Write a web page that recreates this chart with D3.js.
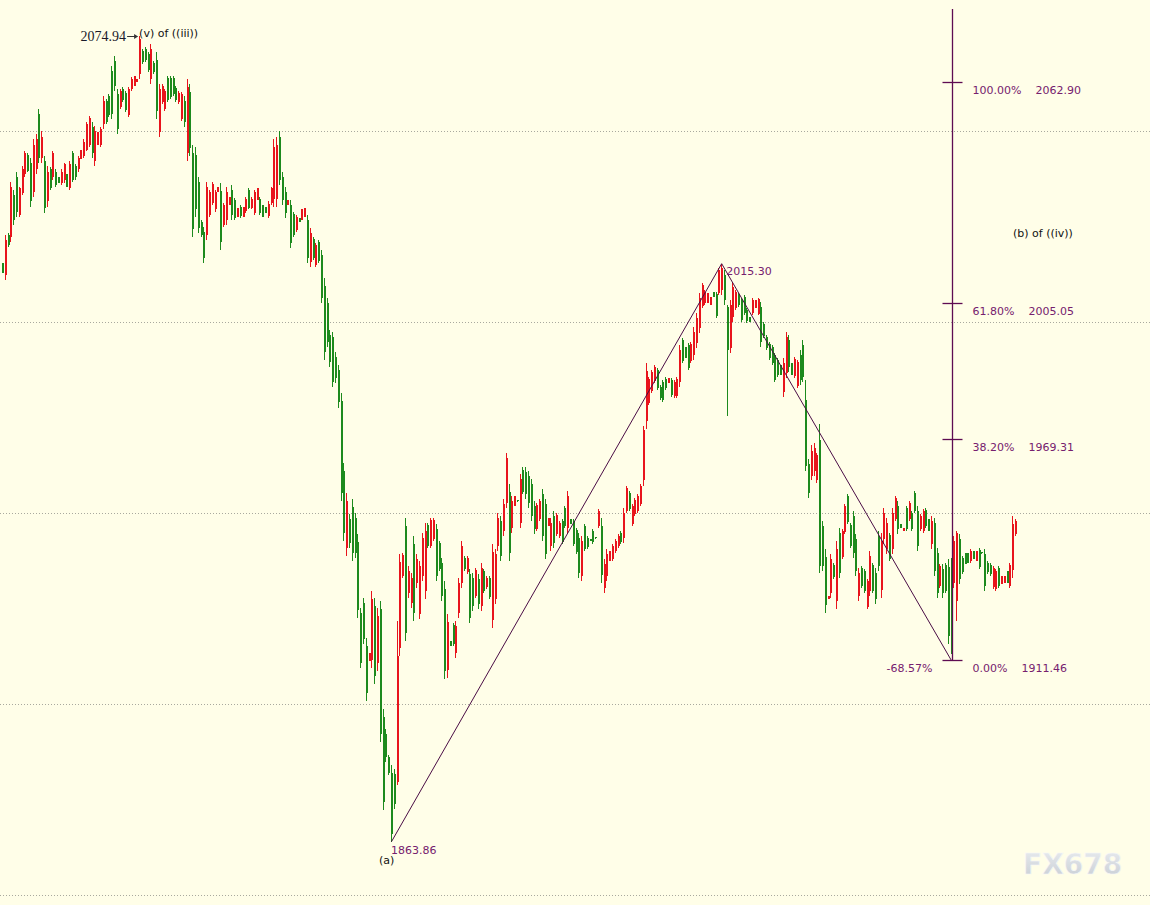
<!DOCTYPE html>
<html><head><meta charset="utf-8">
<script src="https://cdn.jsdelivr.net/npm/d3@7/dist/d3.min.js"></script>
<style>html,body{margin:0;padding:0;background:#fffee8;overflow:hidden}</style>
</head><body><svg id="c" width="1150" height="905"></svg>
<script>
// ---- DATA (prices) ----
const opens = [
2015.5,2012.4,2022.9,2022.4,2033.4,2038.1,2028.1,2033.9,2038.7,2043.9,
2041.8,2034.2,2040.0,2054.4,2043.1,2042.1,2031.6,2040.0,2037.9,2039.4,
2038.1,2036.5,2037.1,2038.7,2035.2,2044.2,2040.8,2040.0,2042.6,2043.6,
2045.2,2046.5,2051.0,2042.1,2046.5,2046.5,2051.8,2057.9,2059.2,2065.7,
2068.4,2059.7,2056.3,2061.0,2060.0,2054.2,2061.0,2061.8,2062.8,2065.0,
2071.0,2071.5,2070.2,2063.6,2067.8,2068.6,2049.7,2057.6,2055.7,2063.9,
2063.9,2063.9,2061.3,2057.6,2053.1,2057.9,2044.2,2060.2,2044.4,2043.9,
2036.8,2026.3,2023.7,2022.9,2028.1,2031.3,2029.5,2034.2,2034.4,2025.5,
2026.8,2030.8,2034.7,2032.1,2027.6,2030.2,2027.6,2029.2,2034.7,2030.0,
2028.7,2032.1,2032.3,2030.8,2030.2,2027.9,2031.3,2032.3,2032.3,2048.6,
2037.9,2034.2,2030.8,2030.8,2028.4,2024.2,2027.3,2026.8,2027.6,2026.8,
2015.8,2021.8,2015.0,2021.0,2017.6,2009.5,2005.0,1996.6,1996.1,1990.8,
1987.4,1979.2,1961.1,1940.8,1948.5,1951.6,1948.7,1942.4,1923.7,1926.4,
1915.1,1911.1,1911.4,1925.6,1910.6,1924.8,1896.4,1892.2,1886.1,1881.9,
1881.7,1879.6,1914.5,1933.5,1946.6,1929.0,1926.4,1941.9,1931.6,1923.5,
1933.5,1929.5,1946.9,1941.4,1943.2,1945.8,1942.2,1936.9,1930.1,1908.8,
1916.4,1920.6,1913.2,1923.7,1931.6,1938.2,1934.5,1934.0,1932.9,1928.2,
1932.7,1925.6,1934.8,1930.6,1932.9,1921.9,1927.4,1941.4,1947.9,1945.3,
1952.7,1955.6,1946.1,1951.9,1953.4,1947.4,1961.3,1960.6,1959.8,1957.7,
1951.9,1945.8,1948.5,1955.0,1952.4,1946.6,1941.4,1949.2,1944.5,1944.0,
1947.9,1951.3,1946.1,1948.5,1947.9,1945.6,1943.5,1933.5,1946.6,1943.5,
1943.2,1945.3,1943.6,1946.6,1946.6,1930.3,1933.5,1937.4,1937.9,1940.0,
1941.4,1944.8,1943.5,1950.6,1955.3,1947.1,1949.8,1950.6,1952.4,1958.5,
1974.2,1978.7,1981.9,1984.5,1987.4,1982.9,1984.2,1985.0,1984.0,1984.8,
1980.5,1980.5,1984.2,1995.3,1993.4,1994.0,1989.7,1991.3,1994.5,1998.4,
2004.2,2005.0,2005.0,2004.5,2007.9,2007.4,2007.6,2008.4,2012.4,2004.0,
1993.2,2001.3,2003.7,2007.1,2005.8,2006.6,2003.2,2001.3,2002.4,2003.7,
2002.2,2004.0,1999.5,1996.1,1994.2,1993.4,1991.3,1990.0,1988.7,1981.6,
1986.6,1995.3,1989.2,1985.8,1983.2,1991.3,1994.0,1979.5,1962.9,1959.8,
1961.1,1958.5,1969.0,1946.6,1938.5,1927.4,1929.0,1936.4,1926.9,1944.8,
1938.5,1945.0,1954.5,1946.9,1949.2,1943.2,1928.2,1935.6,1934.8,1925.3,
1929.5,1936.4,1934.3,1944.0,1929.8,1943.2,1940.6,1944.3,1940.6,1948.5,
1951.9,1947.1,1945.3,1951.3,1948.5,1950.0,1955.3,1950.6,1945.8,1945.3,
1950.8,1948.5,1941.9,1947.4,1939.5,1930.8,1935.3,1936.4,1935.8,1936.1,
1931.6,1926.9,1943.2,1938.2,1939.5,1939.5,1937.4,1940.0,1937.4,1940.3,
1939.7,1939.3,1936.9,1936.4,1930.6,1930.1,1935.6,1931.4,1931.6,1934.8,
1930.8,1935.0,1944.5];
const highs = [
2015.5,2022.9,2023.4,2036.8,2034.7,2039.4,2035.5,2040.8,2044.7,2044.4,
2043.1,2047.9,2049.2,2055.7,2050.0,2043.4,2040.8,2040.5,2044.7,2040.0,
2038.1,2040.0,2041.8,2038.7,2042.1,2044.7,2041.3,2043.4,2045.2,2047.9,
2052.3,2053.9,2052.3,2051.3,2049.7,2051.0,2059.2,2058.4,2059.7,2067.1,
2069.7,2061.0,2061.0,2061.5,2060.5,2061.5,2064.2,2064.4,2063.6,2074.94,
2071.5,2072.0,2070.7,2072.8,2068.4,2070.7,2062.3,2062.3,2061.0,2064.4,
2064.4,2064.4,2061.8,2060.5,2060.2,2059.2,2063.6,2062.3,2046.5,2046.0,
2038.1,2026.8,2025.0,2036.8,2034.7,2036.8,2034.7,2035.5,2036.5,2031.3,
2035.5,2032.9,2036.0,2032.6,2030.0,2030.8,2030.2,2032.9,2035.2,2032.9,
2034.7,2035.2,2032.9,2030.8,2030.2,2031.6,2035.5,2047.9,2048.4,2050.0,
2039.2,2035.5,2032.1,2032.1,2028.9,2028.1,2027.3,2029.5,2030.0,2028.1,
2024.7,2022.4,2020.8,2021.6,2018.9,2011.6,2006.3,1997.9,1997.4,1992.1,
1988.7,1981.3,1963.2,1955.3,1949.8,1953.7,1950.0,1944.5,1925.1,1927.7,
1917.2,1913.2,1929.5,1927.7,1925.1,1926.9,1898.5,1893.5,1886.7,1884.0,
1883.0,1921.6,1939.3,1939.5,1948.7,1936.1,1934.3,1944.0,1939.3,1937.4,
1944.8,1947.4,1947.4,1948.7,1948.7,1947.1,1942.7,1938.2,1932.2,1923.5,
1916.4,1921.1,1921.6,1932.9,1942.7,1938.7,1938.7,1935.3,1934.3,1935.6,
1934.0,1936.9,1935.3,1933.5,1933.5,1941.9,1940.6,1950.0,1949.3,1953.7,
1965.8,1957.7,1954.5,1954.5,1953.5,1960.3,1961.9,1961.9,1961.1,1959.0,
1953.2,1952.7,1953.7,1956.3,1953.7,1948.7,1948.7,1950.6,1950.0,1947.9,
1948.5,1951.9,1955.8,1948.5,1948.5,1946.1,1944.8,1944.0,1947.1,1944.0,
1943.2,1945.8,1943.7,1951.1,1948.7,1937.9,1940.6,1940.0,1941.9,1943.2,
1944.5,1945.3,1951.3,1957.1,1955.8,1952.4,1954.0,1955.0,1957.7,1972.9,
1989.2,1985.5,1987.4,1988.7,1987.9,1983.4,1984.8,1985.5,1985.3,1985.3,
1984.8,1985.5,1994.0,1995.8,1993.4,1994.5,1994.7,1998.7,2002.4,2007.6,
2010.3,2008.4,2007.6,2006.6,2007.9,2007.9,2014.2,2015.3,2013.7,2004.5,
2005.8,2010.5,2008.4,2007.6,2006.3,2007.1,2003.7,2001.3,2006.3,2005.8,
2006.3,2005.2,2000.0,1996.6,1994.7,1994.0,1991.8,1990.5,1988.7,1990.5,
1997.4,1996.6,1989.2,1990.8,1990.0,1992.6,1995.3,1984.8,1964.2,1967.7,
1968.2,1965.8,1973.4,1947.9,1940.6,1928.2,1939.3,1936.9,1942.7,1946.1,
1945.8,1952.4,1955.0,1947.4,1950.6,1944.5,1935.6,1936.1,1935.3,1932.7,
1940.0,1936.9,1935.6,1945.3,1944.8,1951.3,1948.7,1944.8,1951.3,1954.5,
1953.2,1947.1,1946.1,1951.9,1953.2,1950.6,1955.8,1951.9,1949.8,1951.1,
1951.3,1948.5,1949.2,1948.7,1940.8,1936.6,1936.6,1936.9,1937.9,1938.2,
1944.0,1945.3,1944.5,1938.7,1939.5,1939.5,1940.6,1940.0,1940.0,1940.8,
1939.8,1940.6,1937.4,1936.9,1936.1,1935.3,1936.1,1933.5,1933.5,1934.8,
1936.9,1949.2,1948.5];
const lows = [
2012.9,2011.0,2019.7,2021.0,2025.5,2027.6,2027.6,2033.4,2038.1,2039.2,
2030.2,2032.9,2038.7,2041.8,2041.8,2028.7,2030.2,2034.7,2037.3,2035.5,
2036.5,2036.0,2036.5,2035.5,2034.7,2036.8,2037.3,2039.4,2042.6,2043.1,
2044.7,2046.0,2043.1,2040.8,2046.5,2046.0,2050.5,2051.8,2053.6,2053.1,
2060.5,2049.2,2055.7,2057.6,2055.0,2053.6,2060.5,2061.8,2062.8,2063.6,
2067.6,2068.1,2065.5,2062.3,2065.0,2053.1,2048.4,2057.1,2055.2,2057.6,
2058.4,2059.2,2057.6,2057.1,2052.6,2051.0,2042.1,2043.4,2022.4,2027.6,
2023.4,2022.4,2015.5,2021.6,2027.6,2030.8,2028.9,2034.2,2018.9,2025.0,
2025.5,2030.8,2026.8,2026.8,2027.6,2027.3,2027.6,2028.7,2029.5,2029.5,
2028.1,2032.1,2028.1,2027.6,2028.7,2027.3,2030.8,2030.2,2030.2,2036.0,
2030.8,2027.3,2030.8,2019.5,2022.4,2023.7,2026.3,2026.8,2027.6,2015.5,
2014.5,2016.3,2014.5,2015.5,2005.0,1990.0,1993.4,1988.2,1982.9,1984.0,
1977.6,1953.2,1942.7,1938.7,1940.8,1937.4,1938.2,1922.4,1909.3,1915.6,
1900.6,1911.1,1909.3,1905.1,1908.5,1890.1,1872.2,1884.8,1881.4,1863.86,
1872.5,1878.8,1912.4,1932.9,1916.4,1927.7,1925.1,1921.6,1930.3,1922.2,
1932.2,1927.4,1940.8,1940.8,1942.7,1932.2,1934.8,1926.9,1906.4,1906.7,
1915.1,1915.1,1911.9,1922.4,1930.3,1934.8,1934.0,1921.1,1924.3,1927.7,
1924.8,1924.3,1929.0,1930.1,1927.4,1919.8,1926.1,1940.0,1937.4,1944.0,
1951.3,1937.4,1944.8,1951.9,1952.9,1946.1,1955.0,1953.7,1951.3,1947.9,
1944.5,1945.3,1947.9,1942.7,1937.9,1946.6,1940.0,1940.8,1944.0,1943.5,
1941.9,1946.1,1944.8,1947.1,1941.4,1939.3,1932.9,1932.2,1940.0,1940.6,
1942.7,1941.9,1943.2,1946.1,1931.6,1929.0,1932.2,1937.4,1937.4,1939.5,
1940.8,1941.9,1942.2,1950.0,1950.6,1946.6,1949.2,1950.0,1951.9,1957.1,
1972.1,1978.2,1981.3,1984.0,1982.1,1979.5,1979.0,1982.1,1984.0,1980.3,
1980.0,1980.0,1982.9,1989.2,1990.5,1987.4,1989.2,1990.0,1993.2,1997.1,
2003.7,2004.5,2005.0,2004.5,2006.6,2001.1,2007.1,2007.1,2004.5,1975.5,
1991.8,2000.0,2003.2,2004.0,2000.0,2001.8,1999.7,2000.0,2001.8,2003.7,
2001.8,1993.4,1995.8,1992.6,1990.0,1988.7,1984.2,1985.5,1986.1,1980.3,
1985.3,1986.8,1986.1,1985.3,1982.6,1983.4,1984.2,1961.1,1954.0,1958.5,
1959.8,1957.9,1934.3,1934.8,1923.7,1927.4,1927.7,1932.7,1924.8,1932.9,
1937.9,1944.5,1947.1,1940.8,1938.2,1933.5,1926.9,1930.3,1929.0,1924.8,
1928.2,1929.0,1926.1,1934.8,1927.7,1941.9,1939.3,1937.4,1939.3,1947.9,
1944.5,1946.1,1945.3,1945.3,1947.9,1945.3,1950.0,1940.0,1945.3,1944.8,
1946.1,1945.3,1940.6,1933.5,1927.7,1930.3,1927.7,1929.0,1915.6,1913.0,
1930.3,1921.6,1931.4,1934.0,1936.6,1936.9,1936.9,1937.9,1937.4,1935.3,
1939.3,1929.5,1934.0,1933.5,1930.1,1929.5,1930.3,1931.4,1931.6,1931.6,
1930.3,1932.9,1944.0];
const closes = [
2012.9,2021.6,2020.3,2035.5,2026.8,2028.9,2035.0,2040.2,2044.2,2039.7,
2031.6,2046.5,2047.9,2043.1,2048.6,2030.0,2039.4,2035.2,2044.2,2036.0,
2036.5,2039.4,2041.3,2035.5,2041.5,2037.3,2037.9,2042.9,2045.2,2047.3,
2051.8,2053.4,2044.4,2050.0,2049.7,2050.5,2057.9,2052.3,2054.2,2054.4,
2061.8,2050.5,2060.5,2058.1,2055.5,2061.0,2063.6,2064.4,2063.6,2074.2,
2068.1,2068.6,2066.0,2071.5,2065.5,2055.2,2061.0,2061.8,2060.5,2058.1,
2058.9,2059.7,2058.1,2060.0,2059.7,2052.3,2061.5,2045.5,2024.5,2029.7,
2024.7,2022.9,2016.8,2035.5,2034.2,2036.3,2034.2,2035.5,2021.0,2030.8,
2034.2,2032.9,2028.1,2027.3,2030.0,2027.9,2030.2,2032.3,2030.0,2032.3,
2034.2,2035.2,2028.7,2027.6,2028.7,2031.0,2035.0,2045.8,2046.3,2037.3,
2032.1,2028.7,2032.1,2020.8,2022.9,2027.6,2026.3,2029.5,2030.0,2016.8,
2023.4,2016.8,2020.3,2016.0,2006.3,1992.1,1994.7,1989.5,1984.2,1985.3,
1979.0,1955.3,1944.8,1953.2,1942.2,1939.5,1939.5,1924.5,1910.6,1916.9,
1902.7,1913.2,1927.4,1907.2,1923.0,1892.2,1874.3,1886.1,1881.9,1865.9,
1873.8,1912.4,1937.2,1939.0,1918.5,1934.8,1932.9,1923.7,1937.9,1936.1,
1943.5,1945.3,1941.4,1948.2,1948.2,1933.5,1935.3,1928.2,1908.5,1921.4,
1915.1,1915.6,1920.3,1931.6,1941.4,1935.3,1938.2,1922.4,1925.6,1935.0,
1926.1,1935.6,1929.5,1932.9,1928.0,1939.8,1939.3,1948.7,1938.7,1952.4,
1964.5,1939.5,1953.2,1954.5,1953.0,1959.0,1955.6,1955.0,1952.7,1949.2,
1945.8,1952.1,1953.2,1944.0,1939.3,1948.7,1947.4,1942.2,1949.5,1947.4,
1942.4,1946.6,1954.5,1947.1,1941.9,1939.8,1934.3,1942.7,1940.6,1941.1,
1942.7,1942.4,1943.3,1950.6,1933.7,1936.6,1939.3,1940.0,1941.4,1942.7,
1944.0,1942.4,1950.0,1956.6,1951.1,1951.9,1953.5,1954.5,1957.1,1971.6,
1987.1,1985.0,1986.8,1988.2,1982.6,1980.0,1979.5,1982.6,1985.3,1980.8,
1984.2,1985.0,1992.6,1989.7,1990.5,1987.9,1994.2,1997.4,2001.0,2006.3,
2009.7,2007.9,2007.6,2006.6,2006.6,2001.6,2013.7,2014.2,2005.8,1992.6,
2004.5,2009.2,2007.9,2004.5,2000.5,2002.4,2000.3,2000.0,2005.8,2005.8,
2006.0,1994.7,1996.3,1993.2,1990.5,1989.2,1984.8,1986.1,1986.1,1989.2,
1996.1,1988.2,1986.1,1990.3,1989.5,1984.8,1985.5,1962.4,1955.3,1966.3,
1966.9,1965.3,1936.1,1936.1,1925.8,1928.2,1937.9,1933.2,1940.6,1934.3,
1945.3,1951.9,1947.7,1941.4,1939.5,1934.8,1934.3,1930.8,1929.5,1932.2,
1938.7,1929.5,1927.4,1936.1,1942.7,1950.0,1947.4,1937.9,1950.0,1954.0,
1945.8,1946.1,1946.1,1945.8,1952.7,1945.8,1950.6,1941.4,1949.2,1950.6,
1946.6,1945.3,1947.9,1934.8,1929.0,1936.1,1929.0,1929.5,1917.7,1915.1,
1942.7,1944.8,1932.7,1934.5,1936.6,1936.9,1940.0,1937.9,1940.0,1935.8,
1939.4,1930.8,1934.5,1934.0,1935.6,1934.8,1930.8,1933.5,1933.5,1931.6,
1936.4,1947.1,1947.9];

const gridLevels = [2050, 2000, 1950, 1900, 1850];
const fibPcts   = ["100.00%", "61.80%", "38.20%", "0.00%"];
const fibPrices = [2062.90, 2005.05, 1969.31, 1911.46];
const fibTop = 2082;
const swingIdx   = [139, 257, 339];          // bar index of the swing points
const swingPrice = [1863.86, 2015.30, 1911.46];
const swingLabels = ["1863.86", "2015.30"];
const highIdx = 49, highLabel = "2074.94", highPrice = 2074.94;

// ---- CHART ----
const W = 1150, H = 905;
const N = Math.min(opens.length, highs.length, lows.length, closes.length);
const svg = d3.select('#c');
const x = d3.scaleLinear().domain([0, N - 1]).range([2, 1015]);
const y = d3.scaleLinear().domain([1911.46, 2062.90]).range([660, 82]);

const RED = '#e8141c', GREEN = '#1d8a1d', PURPLE = '#5e0c52', LBL = '#76206e';
const FONT = '"DejaVu Sans", Verdana, sans-serif';

svg.append('rect').attr('width', W).attr('height', H).attr('fill', '#fffee8');

// grid
svg.append('g').selectAll('line').data(gridLevels).join('line')
  .attr('x1', 0).attr('x2', W)
  .attr('y1', d => Math.round(y(d)) + 0.5).attr('y2', d => Math.round(y(d)) + 0.5)
  .attr('stroke', '#a9a99e').attr('stroke-dasharray', '1,2');

// candles
const idx = d3.range(N);
const cg = svg.append('g').attr('shape-rendering', 'crispEdges');
const col = i => closes[i] >= opens[i] ? RED : GREEN;
cg.selectAll('line').data(idx).join('line')
  .attr('x1', i => Math.round(x(i)) + 0.5).attr('x2', i => Math.round(x(i)) + 0.5)
  .attr('y1', i => y(highs[i])).attr('y2', i => y(lows[i]))
  .attr('stroke', col).attr('stroke-width', 1);
cg.selectAll('rect').data(idx).join('rect')
  .attr('x', i => Math.round(x(i)) - 0.5).attr('width', 2)
  .attr('y', i => y(Math.max(opens[i], closes[i])))
  .attr('height', i => Math.max(1, y(Math.min(opens[i], closes[i])) - y(Math.max(opens[i], closes[i]))))
  .attr('fill', col);

// swing lines
const pts = swingIdx.map((k, j) => [x(k) + 0.5, y(swingPrice[j])]);
svg.append('path').attr('d', d3.line()(pts)).attr('fill', 'none')
  .attr('stroke', '#4a0d45').attr('stroke-width', 1);

// fib tool
const fx = Math.round(x(swingIdx[2])) + 1.5;
const fg = svg.append('g');
fg.append('line').attr('x1', fx).attr('x2', fx).attr('y1', y(fibTop)).attr('y2', y(fibPrices[3]))
  .attr('stroke', PURPLE).attr('stroke-width', 1.3);
fg.selectAll('line.t').data(fibPrices).join('line').attr('class', 't')
  .attr('x1', fx - 10).attr('x2', fx + 10)
  .attr('y1', d => Math.round(y(d)) + 0.5).attr('y2', d => Math.round(y(d)) + 0.5)
  .attr('stroke', PURPLE).attr('stroke-width', 1.3);
fibPrices.forEach((p, j) => {
  const t = fg.append('text').attr('x', fx + 20).attr('y', y(p) + 12)
    .attr('font-family', FONT).attr('font-size', 11).attr('fill', LBL).text(fibPcts[j]);
  const w = t.node().getComputedTextLength();
  fg.append('text').attr('x', fx + 20 + w + 14).attr('y', y(p) + 12)
    .attr('font-family', FONT).attr('font-size', 11).attr('fill', LBL).text(p.toFixed(2));
});
fg.append('text').attr('x', fx - 20).attr('y', y(fibPrices[3]) + 12).attr('text-anchor', 'end')
  .attr('font-family', FONT).attr('font-size', 11).attr('fill', LBL).text('-68.57%');

// swing labels
svg.append('text').attr('x', x(swingIdx[1]) + 5).attr('y', y(swingPrice[1]) + 11)
  .attr('font-family', FONT).attr('font-size', 11).attr('fill', LBL).text(swingLabels[1]);
svg.append('text').attr('x', x(swingIdx[0])).attr('y', y(swingPrice[0]) + 12)
  .attr('font-family', FONT).attr('font-size', 11).attr('fill', LBL).text(swingLabels[0]);
svg.append('text').attr('x', x(swingIdx[0]) - 12).attr('y', y(swingPrice[0]) + 22)
  .attr('font-family', FONT).attr('font-size', 11).attr('fill', '#111').text('(a)');

// high label with arrow
const hx = x(highIdx), hy = y(highPrice);
svg.append('text').attr('x', hx - 13).attr('y', hy + 5).attr('text-anchor', 'end')
  .attr('font-family', '"Liberation Serif","DejaVu Serif",serif').attr('font-size', 14)
  .attr('fill', '#1a1a2a').text(highLabel);
svg.append('line').attr('x1', hx - 12).attr('x2', hx - 2).attr('y1', Math.round(hy) + 0.5).attr('y2', Math.round(hy) + 0.5)
  .attr('stroke', '#333').attr('stroke-width', 1);
svg.append('path').attr('d', `M${hx - 1},${Math.round(hy) + 0.5} l-4,-2.5 l0,5 z`).attr('fill', '#333');
svg.append('text').attr('x', hx).attr('y', hy + 1)
  .attr('font-family', FONT).attr('font-size', 11).attr('fill', '#111').text('(v) of ((iii))');

// wave label on right
svg.append('text').attr('x', 1013).attr('y', 237)
  .attr('font-family', FONT).attr('font-size', 11).attr('fill', '#111').text('(b) of ((iv))');

// watermark
const defs = svg.append('defs');
const lg = defs.append('linearGradient').attr('id', 'wm').attr('x1', 0).attr('y1', 0).attr('x2', 0).attr('y2', 1);
lg.append('stop').attr('offset', '0%').attr('stop-color', '#e9ecef');
lg.append('stop').attr('offset', '100%').attr('stop-color', '#c6ccd3');
svg.append('text').attr('x', 1023).attr('y', 874)
  .attr('font-family', '"DejaVu Sans", Arial, sans-serif').attr('font-weight', 'bold').attr('font-size', 28)
  .attr('fill', 'url(#wm)').attr('stroke', '#f6f7f8').attr('stroke-width', 0.6).text('FX678');
</script>
</body></html>
